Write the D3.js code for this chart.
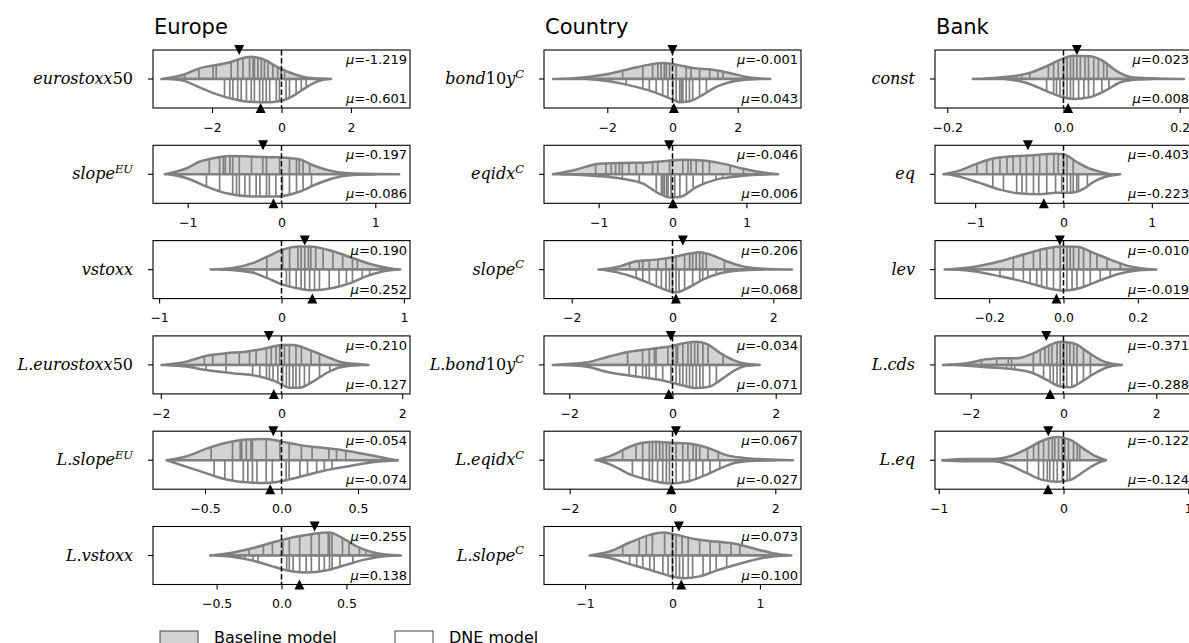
<!DOCTYPE html>
<html lang="en">
<head>
<meta charset="UTF-8">
<title>Split violins</title>
<script src="https://d3js.org/d3.v7.min.js"></script>
<style>
    body {margin: 0; background: white;}
    text {font-family: "DejaVu Sans", sans-serif;}
    .lab {font-family: "DejaVu Serif", serif; font-size: 16px;}
</style>
</head>
<body>
<script>
    const width = 1189;
    const height = 643;

    const groups = ["Europe", "Country", "Bank"];

    // one entry per panel: column (group), row
    const panelCol = [0,0,0,0,0,0, 1,1,1,1,1,1, 2,2,2,2,2];
    const panelRow = [0,1,2,3,4,5, 0,1,2,3,4,5, 0,1,2,3,4];
    const panelLabel = ["eurostoxx50", "slope^EU", "vstoxx", "L.eurostoxx50", "L.slope^EU", "L.vstoxx",
                        "bond10y^C", "eqidx^C", "slope^C", "L.bond10y^C", "L.eqidx^C", "L.slope^C",
                        "const", "eq", "lev", "L.cds", "L.eq"];
    const panelLimit = [3.7, 1.37, 1.05, 2.13, 0.84, 0.99,
                        3.94, 1.74, 2.55, 2.49, 2.5, 1.47,
                        0.221, 1.455, 0.346, 2.77, 1.03];
    const panelTicks = [[-2,0,2], [-1,0,1], [-1,0,1], [-2,0,2], [-0.5,0,0.5], [-0.5,0,0.5],
                        [-2,0,2], [-1,0,1], [-2,0,2], [-2,0,2], [-2,0,2], [-1,0,1],
                        [-0.2,0,0.2], [-1,0,1], [-0.2,0,0.2], [-2,0,2], [-1,0,1]];

    const meanBase = [-1.219, -0.197, 0.190, -0.210, -0.054, 0.255,
                      -0.001, -0.046, 0.206, -0.034, 0.067, 0.073,
                      0.023, -0.403, -0.010, -0.371, -0.122];
    const meanDne  = [-0.601, -0.086, 0.252, -0.127, -0.074, 0.138,
                      0.043, 0.006, 0.068, -0.071, -0.027, 0.100,
                      0.008, -0.223, -0.019, -0.288, -0.124];

    // density outlines: [value, relative half width]
    const baseShape = [
        [[-3.46,0],[-2.84,0.17],[-2.36,0.46],[-1.88,0.6],[-1.49,0.72],[-1.21,0.86],[-0.87,0.96],[-0.54,0.86],[-0.15,0.54],[0.23,0.28],[0.71,0.07],[1.43,0]],
        [[-1.245,0],[-1.01,0.26],[-0.87,0.55],[-0.73,0.69],[-0.55,0.79],[-0.31,0.76],[-0.02,0.73],[0.19,0.65],[0.33,0.4],[0.51,0.16],[0.72,0.04],[1.255,0]],
        [[-0.58,0],[-0.4,0.07],[-0.23,0.29],[-0.12,0.55],[0.01,0.86],[0.15,1.0],[0.25,0.99],[0.42,0.79],[0.58,0.5],[0.74,0.22],[0.88,0.06],[0.97,0]],
        [[-1.99,0],[-1.58,0.14],[-1.25,0.39],[-0.92,0.5],[-0.59,0.57],[-0.25,0.72],[0.02,0.86],[0.19,0.86],[0.46,0.65],[0.74,0.36],[1.02,0.1],[1.44,0]],
        [[-0.75,0],[-0.62,0.17],[-0.49,0.5],[-0.36,0.75],[-0.23,0.89],[-0.1,0.91],[0.01,0.79],[0.12,0.65],[0.25,0.55],[0.4,0.43],[0.55,0.26],[0.68,0.09],[0.76,0]],
        [[-0.55,0],[-0.37,0.13],[-0.22,0.32],[-0.07,0.56],[0.09,0.79],[0.24,0.93],[0.37,0.99],[0.47,0.75],[0.57,0.42],[0.68,0.17],[0.8,0.04],[0.92,0]],
        [[-3.66,0],[-2.76,0.07],[-1.94,0.23],[-1.32,0.43],[-0.71,0.62],[-0.3,0.69],[0.11,0.62],[0.62,0.47],[1.24,0.4],[1.75,0.26],[2.27,0.09],[3.0,0]],
        [[-1.62,0],[-1.31,0.2],[-0.99,0.46],[-0.68,0.49],[-0.4,0.5],[-0.13,0.56],[0.14,0.63],[0.41,0.6],[0.68,0.46],[0.96,0.24],[1.18,0.1],[1.43,0]],
        [[-1.47,0],[-1.05,0.14],[-0.72,0.36],[-0.32,0.43],[0.0,0.53],[0.34,0.69],[0.54,0.75],[0.74,0.65],[1.07,0.36],[1.4,0.14],[1.8,0.04],[2.37,0]],
        [[-2.32,0],[-1.68,0.1],[-1.23,0.36],[-0.84,0.57],[-0.45,0.68],[-0.06,0.79],[0.27,0.96],[0.46,1.0],[0.66,0.91],[0.91,0.53],[1.17,0.22],[1.37,0.07],[1.69,0]],
        [[-1.5,0],[-1.17,0.22],[-0.84,0.57],[-0.58,0.75],[-0.32,0.79],[0.0,0.75],[0.4,0.69],[0.73,0.5],[1.05,0.22],[1.38,0.1],[1.77,0.04],[2.34,0]],
        [[-0.95,0],[-0.72,0.17],[-0.49,0.56],[-0.26,0.89],[-0.11,0.99],[0.04,0.89],[0.27,0.7],[0.5,0.6],[0.73,0.5],[0.96,0.27],[1.15,0.1],[1.36,0]],
        [[-0.156,0],[-0.11,0.07],[-0.063,0.23],[-0.029,0.55],[-0.006,0.83],[0.017,1.0],[0.046,0.98],[0.069,0.76],[0.092,0.33],[0.115,0.09],[0.15,0.03],[0.207,0]],
        [[-1.36,0],[-1.17,0.17],[-0.98,0.46],[-0.8,0.68],[-0.57,0.78],[-0.34,0.82],[-0.11,0.89],[0.0,0.86],[0.15,0.53],[0.3,0.24],[0.42,0.1],[0.53,0]],
        [[-0.32,0],[-0.243,0.11],[-0.171,0.36],[-0.108,0.65],[-0.054,0.89],[-0.009,1.0],[0.036,0.98],[0.081,0.72],[0.126,0.43],[0.171,0.17],[0.207,0.06],[0.25,0]],
        [[-2.6,0],[-2.09,0.07],[-1.66,0.24],[-1.37,0.29],[-1.01,0.29],[-0.65,0.5],[-0.36,0.79],[-0.07,1.0],[0.22,0.93],[0.51,0.57],[0.79,0.22],[1.0,0.07],[1.26,0]],
        [[-0.97,0],[-0.78,0.05],[-0.56,0.05],[-0.43,0.17],[-0.29,0.5],[-0.16,0.86],[-0.05,1.0],[0.05,0.89],[0.16,0.5],[0.24,0.22],[0.32,0.04],[0.34,0]]
    ];
    const dneShape = [
        [[-3.2,0],[-2.84,0.07],[-2.36,0.36],[-1.88,0.65],[-1.4,0.86],[-0.92,0.98],[-0.34,1.0],[0.03,0.93],[0.42,0.65],[0.71,0.36],[1.0,0.12],[1.35,0]],
        [[-1.2,0],[-1.01,0.17],[-0.8,0.53],[-0.59,0.82],[-0.31,0.96],[-0.06,0.96],[0.19,0.75],[0.37,0.43],[0.55,0.17],[0.76,0.03],[1.0,0]],
        [[-0.5,0],[-0.23,0.14],[-0.12,0.36],[0.01,0.65],[0.15,0.83],[0.25,0.89],[0.42,0.79],[0.58,0.55],[0.69,0.29],[0.82,0.09],[0.95,0]],
        [[-1.9,0],[-1.58,0.07],[-1.25,0.22],[-0.81,0.36],[-0.36,0.5],[-0.09,0.72],[0.13,0.98],[0.3,0.98],[0.52,0.72],[0.74,0.36],[0.96,0.11],[1.3,0]],
        [[-0.75,0],[-0.62,0.29],[-0.49,0.57],[-0.36,0.83],[-0.21,0.96],[-0.1,0.98],[0.03,0.86],[0.16,0.65],[0.29,0.43],[0.44,0.26],[0.59,0.09],[0.76,0]],
        [[-0.5,0],[-0.37,0.06],[-0.22,0.22],[-0.07,0.47],[0.09,0.69],[0.19,0.73],[0.34,0.65],[0.5,0.4],[0.63,0.19],[0.75,0.06],[0.9,0]],
        [[-2.6,0],[-1.94,0.1],[-1.12,0.34],[-0.5,0.6],[0.01,0.89],[0.22,1.0],[0.52,0.96],[0.93,0.68],[1.34,0.34],[1.75,0.14],[2.16,0.04],[2.6,0]],
        [[-1.5,0],[-1.04,0.07],[-0.68,0.19],[-0.4,0.4],[-0.18,0.83],[-0.04,1.0],[0.1,0.98],[0.32,0.55],[0.59,0.23],[0.87,0.09],[1.14,0.02],[1.3,0]],
        [[-1.4,0],[-1.12,0.11],[-0.72,0.36],[-0.39,0.65],[-0.06,0.93],[0.07,0.98],[0.34,0.75],[0.6,0.43],[0.93,0.17],[1.33,0.04],[1.8,0]],
        [[-2.1,0],[-1.68,0.07],[-1.23,0.32],[-0.71,0.5],[-0.19,0.67],[0.2,0.89],[0.46,1.0],[0.72,0.93],[0.98,0.57],[1.24,0.19],[1.43,0.04],[1.6,0]],
        [[-1.45,0],[-1.17,0.22],[-0.84,0.6],[-0.45,0.86],[-0.06,1.0],[0.27,0.93],[0.59,0.69],[0.92,0.36],[1.25,0.1],[1.64,0.02],[2.0,0]],
        [[-0.9,0],[-0.72,0.11],[-0.49,0.37],[-0.26,0.62],[-0.03,0.88],[0.12,0.98],[0.31,0.9],[0.5,0.65],[0.73,0.4],[0.96,0.16],[1.15,0.04],[1.3,0]],
        [[-0.1,0],[-0.063,0.17],[-0.035,0.46],[-0.006,0.75],[0.017,0.86],[0.046,0.78],[0.075,0.46],[0.098,0.14],[0.121,0.03],[0.15,0]],
        [[-1.3,0],[-1.17,0.11],[-0.95,0.37],[-0.72,0.66],[-0.49,0.83],[-0.27,0.86],[-0.08,0.8],[0.08,0.8],[0.23,0.62],[0.34,0.33],[0.45,0.14],[0.64,0]],
        [[-0.3,0],[-0.243,0.07],[-0.171,0.29],[-0.099,0.55],[-0.045,0.79],[0.0,0.9],[0.045,0.79],[0.099,0.46],[0.153,0.17],[0.198,0.04],[0.24,0]],
        [[-2.3,0],[-1.66,0.1],[-1.08,0.19],[-0.65,0.36],[-0.36,0.65],[-0.07,0.93],[0.14,0.96],[0.36,0.76],[0.65,0.39],[0.94,0.1],[1.2,0]],
        [[-0.97,0],[-0.78,0.05],[-0.56,0.05],[-0.43,0.22],[-0.29,0.57],[-0.16,0.86],[-0.05,0.93],[0.05,0.86],[0.16,0.5],[0.24,0.22],[0.31,0.05],[0.34,0]]
    ];

    // individual estimates (sticks)
    const baseSticks = [
        [-2.79,-2.38,-1.97,-1.88,-1.45,-1.26,-1.11,-0.92,-0.82,-0.78,-0.68,-0.58,-0.49,-0.39,-0.25,-0.11,-0.01,0.09],
        [-0.77,-0.66,-0.62,-0.60,-0.55,-0.52,-0.45,-0.32,-0.2,-0.16,-0.02,0.085,0.16,0.19,0.23,0.3],
        [-0.12,0.01,0.066,0.134,0.16,0.19,0.22,0.24,0.28,0.34,0.42,0.5,0.58,0.62],
        [-1.28,-1.14,-0.92,-0.7,-0.53,-0.42,-0.25,-0.17,-0.09,-0.03,0.05,0.13,0.24,0.33,0.49,0.63],
        [-0.46,-0.32,-0.27,-0.26,-0.23,-0.2,-0.19,-0.1,-0.01,0.05,0.13,0.2,0.31,0.36,0.42],
        [-0.25,-0.14,-0.07,0.01,0.06,0.14,0.23,0.29,0.36,0.37,0.39,0.47,0.52,0.6,0.65],
        [-1.53,-0.91,-0.61,-0.45,-0.35,-0.25,-0.19,-0.09,0.11,0.42,0.57,0.83,1.14,1.39,1.55],
        [-1.04,-0.9,-0.83,-0.77,-0.72,-0.68,-0.59,-0.49,-0.4,-0.27,-0.2,-0.04,0.14,0.21,0.25,0.32,0.41,0.5,0.78,0.96],
        [-0.85,-0.66,-0.59,-0.46,-0.29,-0.13,0.0,0.07,0.24,0.34,0.4,0.47,0.54,0.6,0.67,1.03],
        [-0.87,-0.58,-0.45,-0.35,-0.32,-0.09,0.01,0.07,0.1,0.2,0.3,0.36,0.43,0.49,0.59,0.69,0.98],
        [-0.97,-0.71,-0.58,-0.45,-0.39,-0.32,-0.25,-0.19,-0.12,-0.06,0.07,0.2,0.3,0.4,0.46,0.53,0.69,0.89],
        [-0.57,-0.38,-0.3,-0.23,-0.09,0.0,0.04,0.11,0.18,0.31,0.43,0.54,0.67,0.77],
        [-0.098,-0.081,-0.072,-0.058,-0.026,-0.017,-0.009,0.0,0.006,0.012,0.017,0.023,0.029,0.037,0.043,0.052,0.06,0.069,0.075],
        [-0.98,-0.87,-0.8,-0.72,-0.64,-0.57,-0.49,-0.42,-0.34,-0.27,-0.19,-0.11,-0.06,0.0,0.04,0.11],
        [-0.135,-0.108,-0.081,-0.063,-0.045,-0.027,-0.009,0.009,0.018,0.027,0.041,0.054,0.072,0.09,0.117,0.153],
        [-1.77,-1.44,-1.19,-1.12,-0.65,-0.5,-0.4,-0.32,-0.25,-0.14,-0.07,0.0,0.07,0.14,0.22,0.29,0.43,0.58],
        [-0.29,-0.24,-0.2,-0.16,-0.12,-0.09,-0.07,-0.04,-0.01,0.01,0.04,0.08,0.11,0.13]
    ];
    const dneSticks = [
        [-1.64,-1.49,-1.40,-1.26,-1.16,-1.01,-0.87,-0.78,-0.63,-0.54,-0.44,-0.34,-0.15,-0.06,0.13,0.23,0.42,0.57,0.71],
        [-0.8,-0.66,-0.52,-0.48,-0.45,-0.39,-0.34,-0.27,-0.23,-0.16,-0.13,-0.06,0.01,0.085,0.16,0.23,0.32],
        [-0.23,-0.12,0.04,0.066,0.12,0.16,0.19,0.23,0.27,0.31,0.39,0.47,0.53,0.58,0.66,0.72],
        [-1.25,-0.92,-0.48,-0.36,-0.25,-0.2,-0.14,-0.06,0.02,0.08,0.13,0.19,0.24,0.3,0.38,0.46,0.63,0.8],
        [-0.44,-0.37,-0.32,-0.25,-0.22,-0.19,-0.16,-0.1,-0.06,0.03,0.05,0.12,0.17,0.23,0.28,0.33],
        [-0.28,-0.22,-0.18,0.04,0.06,0.09,0.14,0.19,0.23,0.29,0.33,0.37,0.39,0.45,0.55],
        [-1.42,-0.91,-0.71,-0.5,-0.3,-0.14,0.01,0.11,0.22,0.27,0.32,0.42,0.52,0.62,0.83,1.04],
        [-0.86,-0.68,-0.45,-0.22,-0.15,-0.13,-0.11,-0.08,-0.06,-0.02,0.03,0.1,0.19,0.28,0.41,0.59,0.68],
        [-0.72,-0.59,-0.46,-0.32,-0.22,-0.13,-0.06,0.0,0.07,0.13,0.24,0.4,0.54,0.6,0.7,0.87],
        [-0.84,-0.71,-0.58,-0.51,-0.45,-0.32,-0.19,-0.03,0.07,0.14,0.2,0.27,0.33,0.39,0.46,0.53,0.59,0.72,0.85],
        [-0.78,-0.58,-0.45,-0.39,-0.29,-0.19,-0.12,-0.06,0.07,0.2,0.33,0.46,0.59,0.73,0.92],
        [-0.49,-0.41,-0.34,-0.26,-0.21,-0.11,-0.05,0.0,0.04,0.08,0.12,0.18,0.23,0.35,0.43,0.5,0.62],
        [-0.029,-0.017,-0.012,-0.006,0.0,0.006,0.012,0.017,0.026,0.035,0.043,0.052,0.066,0.078],
        [-0.8,-0.68,-0.53,-0.47,-0.42,-0.34,-0.28,-0.19,-0.09,-0.02,0.04,0.08,0.11,0.15,0.17,0.27],
        [-0.171,-0.135,-0.108,-0.09,-0.072,-0.059,-0.045,-0.027,-0.009,0.009,0.023,0.036,0.054,0.072,0.099,0.126],
        [-1.23,-1.12,-1.05,-0.65,-0.43,-0.29,-0.22,-0.14,-0.07,0.0,0.07,0.18,0.29,0.43,0.58],
        [-0.29,-0.2,-0.16,-0.13,-0.11,-0.08,-0.05,-0.01,0.03,0.05]
    ];

    const legendLabels = ["Baseline model", "DNE model"];

    // layout
    const colLeft = [153, 544, 935];
    const axW = 257, axH = 58;
    const rowTop = 50, rowStep = 95.3;
    const grey = "#808080", fillBase = "#d3d3d3";

    const svg = d3.select("body").append("svg")
            .attr("width", width).attr("height", height);

    // column titles
    svg.selectAll("text.title")
            .data(groups).enter()
            .append("text").attr("class", "title")
            .attr("x", (d, i) => colLeft[i] + 1)
            .attr("y", 34)
            .style("font-size", "21px")
            .text(d => d);

    // splits "L.bond10y^C" into italic letters, upright digits and a superscript
    function writeLabel(sel, s) {
        const parts = s.split("^");
        const runs = parts[0].match(/\d+|\.|[^\d.]+/g);
        runs.forEach(r => {
            sel.append("tspan")
                    .style("font-style", /^[\d.]+$/.test(r) ? "normal" : "italic")
                    .text(r);
        });
        if (parts[1]) {
            sel.append("tspan").attr("dy", -6.5)
                    .style("font-style", "italic")
                    .style("font-size", "11.5px")
                    .text(parts[1]);
        }
    }

    function triangle(cx, cy, down) {
        const s = 5;
        return down
            ? `M${cx - s},${cy - s}L${cx + s},${cy - s}L${cx},${cy + s}Z`
            : `M${cx - s},${cy + s}L${cx + s},${cy + s}L${cx},${cy - s}Z`;
    }

    const fmtMu = d3.format(".3f");

    panelLabel.forEach((lab, i) => {
        const g = svg.append("g")
                .attr("transform", `translate(${colLeft[panelCol[i]]},${rowTop + panelRow[i] * rowStep})`);

        const x = d3.scaleLinear().domain([-panelLimit[i], panelLimit[i]]).range([0, axW]);
        const y = d3.scaleLinear().domain([-0.5, 0.5]).range([axH, 0]);

        const halves = [
            {shape: baseShape[i], sticks: baseSticks[i], sign: 1, fill: fillBase},
            {shape: dneShape[i], sticks: dneSticks[i], sign: -1, fill: "white"}
        ];

        halves.forEach((h, k) => {
            const area = d3.area()
                    .x(d => x(d[0]))
                    .y0(y(0))
                    .y1(d => y(h.sign * 0.4 * d[1]))
                    .curve(d3.curveMonotoneX);
            const id = `clip${i}_${k}`;
            g.append("clipPath").attr("id", id)
                    .append("path").attr("d", area(h.shape));

            g.append("path")
                    .attr("d", area(h.shape))
                    .style("fill", h.fill)
                    .style("stroke", "none");

            g.append("g").attr("clip-path", `url(#${id})`)
                    .selectAll("line")
                    .data(h.sticks).enter()
                    .append("line")
                    .attr("x1", d => x(d)).attr("x2", d => x(d))
                    .attr("y1", y(0)).attr("y2", y(h.sign * 0.4))
                    .style("stroke", grey)
                    .style("stroke-width", 1.7);

            g.append("path")
                    .attr("d", area(h.shape))
                    .style("fill", "none")
                    .style("stroke", grey)
                    .style("stroke-width", 2.5)
                    .style("stroke-linejoin", "round");
        });

        // zero line
        g.append("line")
                .attr("x1", x(0)).attr("x2", x(0))
                .attr("y1", 0).attr("y2", axH)
                .style("stroke", "black")
                .style("stroke-width", 1.5)
                .style("stroke-dasharray", "5.5,2.4");

        // mean labels
        g.append("text")
                .attr("x", axW - 3).attr("y", 14)
                .attr("text-anchor", "end")
                .style("font-size", "13px")
                .call(t => {
                    t.append("tspan").style("font-style", "italic").text("μ");
                    t.append("tspan").text("=" + fmtMu(meanBase[i]).replace("−", "-"));
                });
        g.append("text")
                .attr("x", axW - 3).attr("y", axH - 5)
                .attr("text-anchor", "end")
                .style("font-size", "13px")
                .call(t => {
                    t.append("tspan").style("font-style", "italic").text("μ");
                    t.append("tspan").text("=" + fmtMu(meanDne[i]).replace("−", "-"));
                });

        // frame
        g.append("rect")
                .attr("width", axW).attr("height", axH)
                .style("fill", "none")
                .style("stroke", "black")
                .style("stroke-width", 1.1);

        // mean markers
        g.append("path").attr("d", triangle(x(meanBase[i]), 0, true)).style("fill", "black");
        g.append("path").attr("d", triangle(x(meanDne[i]), axH, false)).style("fill", "black");

        // x axis
        const decimals = panelTicks[i].some(t => !Number.isInteger(t));
        const xAxis = d3.axisBottom(x)
                .tickValues(panelTicks[i])
                .tickFormat(d3.format(decimals ? ".1f" : "d"))
                .tickSizeOuter(0)
                .tickSize(5)
                .tickPadding(10);
        const ax = g.append("g").attr("transform", `translate(0,${axH})`).call(xAxis);
        ax.select(".domain").remove();
        ax.selectAll("text").style("font-family", "DejaVu Sans").style("font-size", "12.5px");
        ax.selectAll("line").style("stroke-width", 1.1);

        // y tick and label
        g.append("line")
                .attr("x1", -5).attr("x2", 0)
                .attr("y1", y(0)).attr("y2", y(0))
                .style("stroke", "black").style("stroke-width", 1.1);
        g.append("text").attr("class", "lab")
                .attr("x", -20).attr("y", y(0) + 5)
                .attr("text-anchor", "end")
                .call(writeLabel, lab);
    });

    // legend
    const legend = svg.append("g");
    const legX = [160, 395];
    legendLabels.forEach((d, i) => {
        legend.append("rect")
                .attr("x", legX[i]).attr("y", 631)
                .attr("width", 38).attr("height", 14)
                .style("fill", i === 0 ? fillBase : "white")
                .style("stroke", "#444")
                .style("stroke-width", 1);
        legend.append("text")
                .attr("x", legX[i] + 54).attr("y", 643)
                .style("font-size", "16px")
                .text(d);
    });
</script>
</body>
</html>
